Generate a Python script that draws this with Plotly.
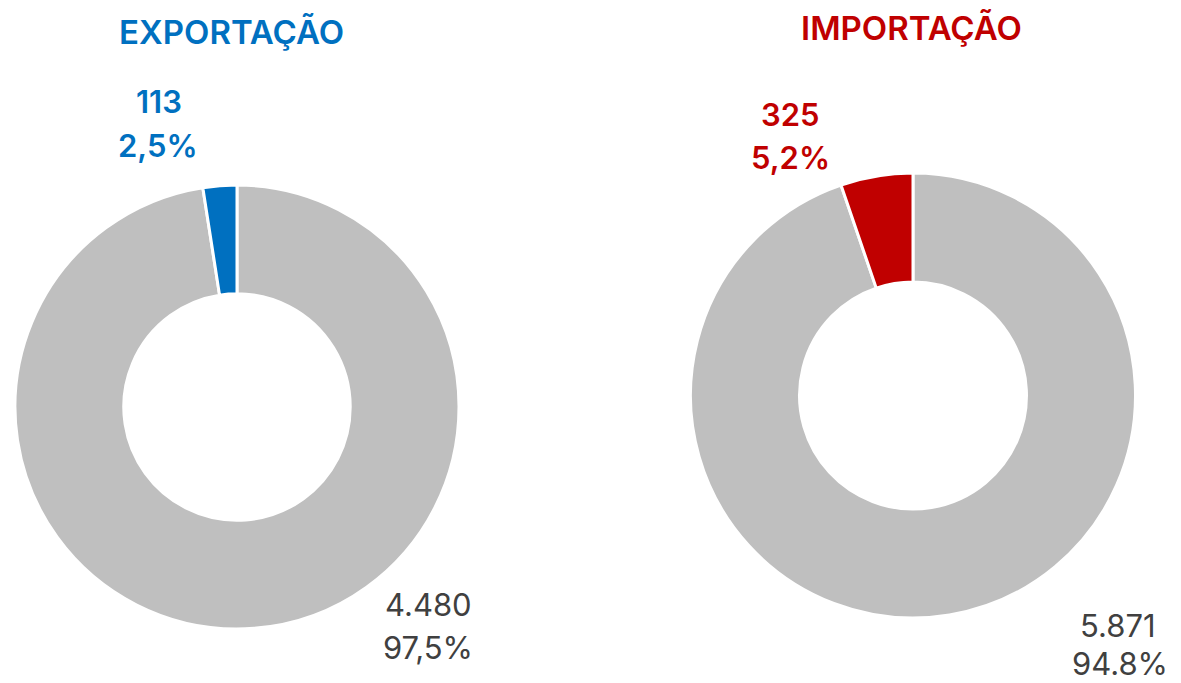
import plotly.graph_objects as go

W, H = 1181, 683

categories = ["Restante", "Destaque"]
exp_values = [4480, 113]
imp_values = [5871, 325]
exp_value_labels = ["4.480", "113"]
exp_pct_labels = ["97,5%", "2,5%"]
imp_value_labels = ["5.871", "325"]
imp_pct_labels = ["94.8%", "5,2%"]
titles = ["EXPORTAÇÃO", "IMPORTAÇÃO"]

BLUE = "#0070C0"
RED = "#C00000"
GRAY = "#BFBFBF"
DARK = "#404040"
FONT = "Inter, Roboto, 'Noto Sans', sans-serif"


def px_x(x):
    return x / W


def px_y(y):
    return 1 - y / H


fig = go.Figure()

fig.add_trace(go.Pie(
    labels=categories, values=exp_values, hole=0.51, sort=False,
    direction="clockwise", rotation=0,
    marker=dict(colors=[GRAY, BLUE], line=dict(color="white", width=3)),
    textinfo="none", hoverinfo="label+value+percent",
    domain=dict(x=[px_x(15), px_x(459)], y=[px_y(629), px_y(185)]),
    showlegend=False,
))
fig.add_trace(go.Pie(
    labels=categories, values=imp_values, hole=0.51, sort=False,
    direction="clockwise", rotation=0,
    marker=dict(colors=[GRAY, RED], line=dict(color="white", width=3)),
    textinfo="none", hoverinfo="label+value+percent",
    domain=dict(x=[px_x(690), px_x(1136)], y=[px_y(618), px_y(173)]),
    showlegend=False,
))

annotations = []


def add_text(text, x, y, color, size, weight=400):
    annotations.append(dict(
        text=text,
        x=px_x(x), y=px_y(y), xref="paper", yref="paper",
        xanchor="center", yanchor="middle", showarrow=False,
        borderpad=0,
        font=dict(family=FONT, size=size, color=color, weight=weight),
    ))


add_text(titles[0], 232, 32, BLUE, 33, 600)
add_text(titles[1], 911, 28, RED, 33, 600)

add_text(exp_value_labels[1], 159, 102, BLUE, 31, 600)
add_text(exp_pct_labels[1], 158, 145, BLUE, 31, 600)
add_text(exp_value_labels[0], 428, 604, DARK, 31)
add_text(exp_pct_labels[0], 428, 647, DARK, 31)

add_text(imp_value_labels[1], 790, 115, RED, 31, 600)
add_text(imp_pct_labels[1], 790, 158, RED, 31, 600)
add_text(imp_value_labels[0], 1118, 625, DARK, 31)
add_text(imp_pct_labels[0], 1120, 663, DARK, 31)

fig.update_layout(
    width=W, height=H,
    margin=dict(l=0, r=0, t=0, b=0),
    paper_bgcolor="white", plot_bgcolor="white",
    annotations=annotations,
    font=dict(family=FONT),
)

fig.write_html("out.html", config={"displayModeBar": False},
               post_script="document.body.style.margin='0px';")
